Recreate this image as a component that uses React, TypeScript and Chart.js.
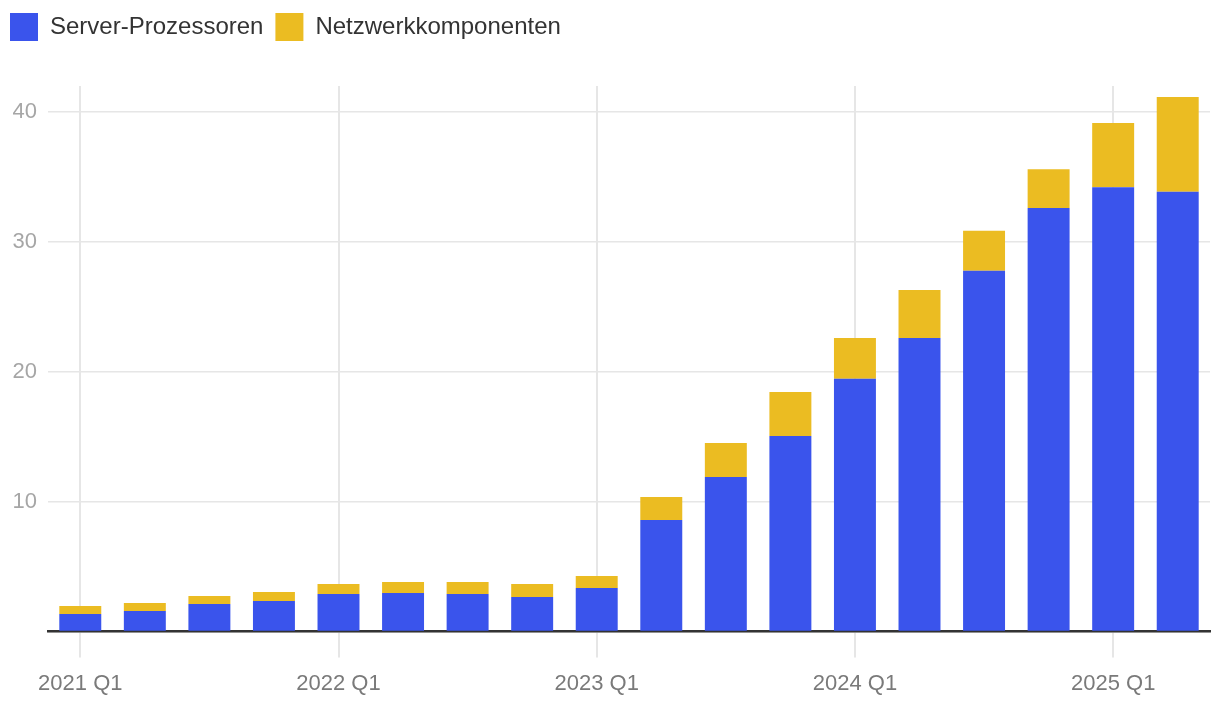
import React, { useEffect, useRef } from "react";
import { Chart, registerables } from "chart.js";

Chart.register(...registerables);

const quarters = [
  "2021 Q1", "2021 Q2", "2021 Q3", "2021 Q4",
  "2022 Q1", "2022 Q2", "2022 Q3", "2022 Q4",
  "2023 Q1", "2023 Q2", "2023 Q3", "2023 Q4",
  "2024 Q1", "2024 Q2", "2024 Q3", "2024 Q4",
  "2025 Q1", "2025 Q2",
];

const serverProcessors = [
  1.36, 1.59, 2.13, 2.36, 2.9, 2.98, 2.9, 2.67, 3.36,
  8.59, 11.9, 15.05, 19.46, 22.6, 27.77, 32.6, 34.2, 33.85,
];

const networkComponents = [
  0.62, 0.61, 0.62, 0.69, 0.77, 0.84, 0.92, 1.0, 0.92,
  1.77, 2.62, 3.4, 3.14, 3.7, 3.08, 3.0, 4.95, 7.3,
];

const yTicks = [0, 10, 20, 30, 40];
const yMax = 42;

const FONT = "'Liberation Sans', Arial, Helvetica, sans-serif";

export default function App() {
  const ref = useRef<HTMLCanvasElement | null>(null);

  useEffect(() => {
    document.body.style.margin = "0";
    const canvas = ref.current;
    if (!canvas) return;

    const legendMargin = {
      id: "legendMargin",
      beforeInit(chart: any) {
        const legend = chart.legend;
        if (!legend) return;
        const origFit = legend.fit;
        legend.fit = function () {
          origFit.call(this);
          this.height += 35;
        };
      },
    };

    const chart = new Chart(canvas, {
      type: "bar",
      data: {
        labels: quarters,
        datasets: [
          {
            label: "Server-Prozessoren",
            data: serverProcessors,
            backgroundColor: "#3A54EC",
            borderWidth: 0,
            categoryPercentage: 1,
            barPercentage: 0.65,
          },
          {
            label: "Netzwerkkomponenten",
            data: networkComponents,
            backgroundColor: "#EBBC22",
            borderWidth: 0,
            categoryPercentage: 1,
            barPercentage: 0.65,
          },
        ],
      },
      options: {
        animation: false,
        responsive: false,
        maintainAspectRatio: false,
        layout: { padding: { top: 1, left: -2, right: 10, bottom: 0 } },
        plugins: {
          legend: {
            position: "top",
            align: "start",
            labels: {
              boxWidth: 28,
              boxHeight: 28,
              padding: 12,
              color: "#333333",
              font: { family: FONT, size: 24 },
            },
          },
          tooltip: { enabled: false },
        },
        scales: {
          x: {
            stacked: true,
            offset: true,
            grid: {
              offset: false,
              drawTicks: true,
              tickLength: 26,
              lineWidth: 2,
              color: (ctx: any) =>
                ctx.index !== undefined && ctx.index % 4 === 0 ? "#e6e6e6" : "rgba(0,0,0,0)",
            },
            border: { display: true, color: "#333333", width: 2.5 },
            ticks: {
              autoSkip: false,
              maxRotation: 0,
              padding: 13,
              color: "#7a7a7a",
              font: { family: FONT, size: 22 },
              callback: (_v: any, i: number) => (i % 4 === 0 ? quarters[i] : ""),
            },
          },
          y: {
            stacked: true,
            min: 0,
            max: yMax,
            afterBuildTicks: (scale: any) => {
              scale.ticks = yTicks.map((v) => ({ value: v }));
            },
            afterFit: (scale: any) => {
              scale.width = 50;
            },
            grid: {
              drawTicks: false,
              lineWidth: 1.5,
              color: "#e6e6e6",
            },
            border: { display: false },
            ticks: {
              padding: 11,
              color: "#a6a6a6",
              font: { family: FONT, size: 22 },
              callback: (v: any) => (v === 0 ? "" : String(v)),
            },
          },
        },
      },
      plugins: [legendMargin],
    });

    return () => chart.destroy();
  }, []);

  return (
    <div style={{ width: 1220, height: 710 }}>
      <canvas ref={ref} width={1220} height={710} style={{ display: "block" }} />
    </div>
  );
}
